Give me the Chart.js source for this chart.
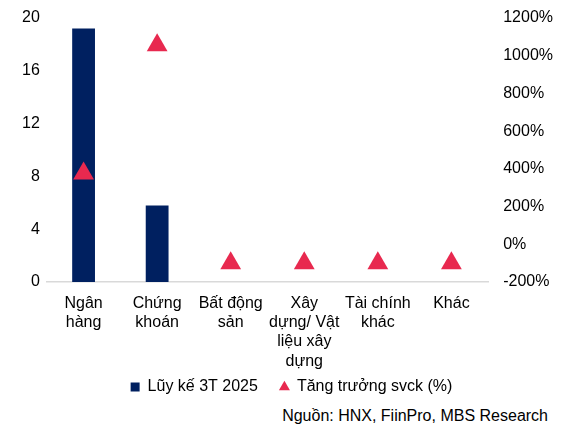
<!DOCTYPE html>
<html>
<head>
<meta charset="utf-8">
<script src="https://cdn.jsdelivr.net/npm/chart.js@4.4.1/dist/chart.umd.min.js"></script>
<style>
  body { margin: 0; background: #fff; overflow: hidden; }
  #wrap { position: relative; width: 568px; height: 405px; }
  #source {
    position: absolute; left: 0; top: 407px; width: 548px; text-align: right;
    font-family: "Liberation Sans", Arial, sans-serif; font-size: 16px; line-height: 18px; color: #000;
  }
</style>
</head>
<body>
<div id="wrap"><canvas id="chart"></canvas></div>
<div id="source">Nguồn: HNX, FiinPro, MBS Research</div>
<script>
// categories and values
let categories = [
    ['Ngân', 'hàng'],
    ['Chứng', 'khoán'],
    ['Bất động', 'sản'],
    ['Xây', 'dựng/ Vật', 'liệu xây', 'dựng'],
    ['Tài chính', 'khác'],
    ['Khác']
];
let accumulated = [19.2, 5.8, 0, 0, 0, 0];          // Lũy kế 3T 2025
let growthPct = [375, 1055, -100, -100, -100, -100]; // Tăng trưởng svck (%)
let leftTicks = [0, 4, 8, 12, 16, 20];
let rightTicks = [-200, 0, 200, 400, 600, 800, 1000, 1200];

const font = { family: '"Liberation Sans", Arial, sans-serif', size: 16, lineHeight: 1.2 };

// the top/bottom room is set by layout.padding instead of the tick label heights
function noVerticalPad(axis) {
    axis.paddingTop = 0;
    axis.paddingBottom = 0;
}

const ctx = document.getElementById('chart');

let chart = new Chart(ctx, {
    data: {
        labels: categories,
        datasets: [{
            type: 'line',
            label: 'Tăng trưởng svck (%)',
            data: growthPct,
            yAxisID: 'y1',
            showLine: false,
            pointStyle: 'triangle',
            pointRadius: 12,
            pointHoverRadius: 12,
            backgroundColor: '#E8294F',
            borderColor: '#E8294F',
            borderWidth: 0,
            order: 0
        }, {
            type: 'bar',
            label: 'Lũy kế 3T 2025',
            data: accumulated,
            yAxisID: 'y',
            backgroundColor: '#002060',
            borderColor: '#002060',
            pointStyle: 'rect',
            barPercentage: 0.31,
            categoryPercentage: 1,
            order: 1
        }]
    },
    options: {
        responsive: true,
        maintainAspectRatio: false,
        animation: false,
        layout: {
            padding: { left: 15, right: 0, top: 18, bottom: 0 }
        },
        scales: {
            x: {
                grid: { display: false, drawTicks: false },
                border: { display: true, color: '#D9D9D9', width: 1.5 },
                ticks: { color: '#000', font: font, padding: 12, maxRotation: 0, autoSkip: false },
                // the 4-line label hangs below the axis box, so keep it from being clipped
                afterFit: function (axis) {
                    axis.height = 75;
                    axis._computeLabelArea = () => undefined;
                }
            },
            y: {
                position: 'left',
                min: 0,
                max: 20,
                afterBuildTicks: function (axis) {
                    axis.ticks = leftTicks.map(v => ({ value: v }));
                },
                afterFit: noVerticalPad,
                grid: { display: false, drawTicks: false },
                border: { display: false },
                ticks: { color: '#000', font: font, padding: 7 }
            },
            y1: {
                position: 'right',
                min: -200,
                max: 1200,
                afterBuildTicks: function (axis) {
                    axis.ticks = rightTicks.map(v => ({ value: v }));
                },
                afterFit: noVerticalPad,
                grid: { display: false, drawTicks: false },
                border: { display: false },
                ticks: {
                    color: '#000',
                    font: font,
                    padding: 15,
                    callback: v => v + '%'
                }
            }
        },
        plugins: {
            legend: {
                position: 'bottom',
                reverse: true,
                labels: {
                    usePointStyle: true,
                    boxWidth: 9,
                    boxHeight: 9,
                    color: '#000',
                    font: font,
                    padding: 22
                }
            },
            tooltip: { enabled: false }
        }
    }
});
</script>
</body>
</html>
